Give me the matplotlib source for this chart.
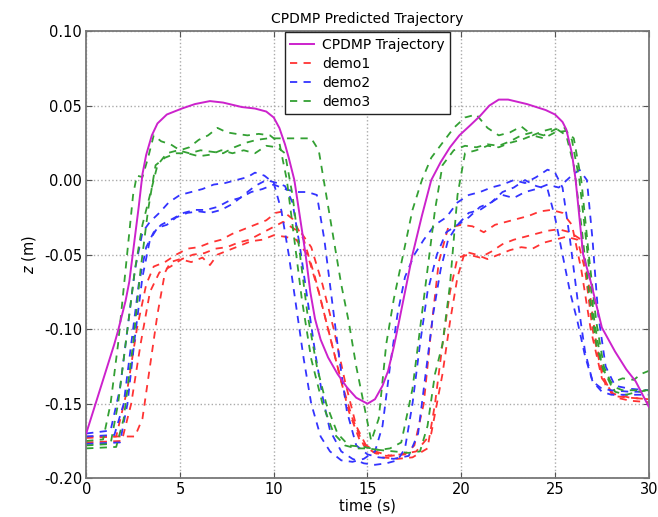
import numpy as np
import matplotlib
matplotlib.use("Agg")
import matplotlib.pyplot as plt

# CPDMP predicted trajectory
cp_t = [0, 0.5, 1.0, 1.5, 1.7, 2.1, 2.3, 2.5, 2.8, 3.0, 3.2, 3.5, 3.8, 4.3, 5.1, 5.8, 6.6, 7.3,
        8.3, 9.0, 9.6, 10.0, 10.3, 10.6, 10.8, 11.1, 11.4, 11.7, 11.95, 12.2, 12.5, 12.9, 13.4,
        13.9, 14.4, 15.0, 15.4, 15.8, 16.1, 16.4, 16.6, 17.0, 17.4, 17.9, 18.4, 18.9, 19.4, 19.9,
        20.5, 21.0, 21.5, 22.0, 22.5, 23.5, 24.5, 25.0, 25.4, 25.6, 25.9, 26.1, 26.5, 26.9, 27.5,
        28.2, 28.8, 29.3, 30.0]
cp_z = [-0.170, -0.150, -0.130, -0.110, -0.101, -0.081, -0.068, -0.048, -0.018, 0.004, 0.017,
        0.030, 0.038, 0.044, 0.048, 0.051, 0.053, 0.052, 0.049, 0.048, 0.046, 0.042, 0.035, 0.024,
        0.015, 0.000, -0.025, -0.050, -0.075, -0.093, -0.107, -0.119, -0.130, -0.139, -0.146,
        -0.150, -0.147, -0.138, -0.128, -0.112, -0.100, -0.075, -0.050, -0.024, 0.000, 0.012, 0.022,
        0.030, 0.037, 0.043, 0.050, 0.054, 0.054, 0.051, 0.047, 0.044, 0.039, 0.034, 0.018, 0.000,
        -0.050, -0.068, -0.099, -0.115, -0.127, -0.135, -0.152]

# demo1 (red)
r1_t = [0, 1.6, 2.2, 2.7, 3.2, 3.6, 4.2, 4.8, 5.4, 6.0, 6.6, 7.2, 7.8, 8.4, 9.0, 9.6, 10.1, 10.5,
        11.0, 11.6, 12.2, 12.8, 13.4, 14.0, 14.6, 15.4, 16.2, 17.0, 17.5, 18.0, 18.4, 18.8, 19.3,
        20.0, 20.6, 21.2, 21.8, 22.4, 23.0, 23.6, 24.2, 24.8, 25.4, 25.9, 26.4, 26.9, 27.5, 28.2,
        29.0, 30]
r1_z = [-0.173, -0.172, -0.140, -0.100, -0.070, -0.058, -0.055, -0.050, -0.046, -0.045, -0.042,
        -0.040, -0.036, -0.033, -0.030, -0.027, -0.022, -0.021, -0.026, -0.040, -0.065, -0.095,
        -0.125, -0.155, -0.175, -0.182, -0.185, -0.184, -0.178, -0.150, -0.100, -0.055, -0.032,
        -0.030, -0.031, -0.035, -0.030, -0.028, -0.026, -0.024, -0.021, -0.020, -0.022, -0.030,
        -0.060, -0.100, -0.133, -0.145, -0.146, -0.147]
r2_t = [0, 1.9, 2.4, 2.9, 3.4, 3.9, 4.5, 5.1, 5.7, 6.3, 6.9, 7.5, 8.1, 8.7, 9.3, 9.9, 10.5, 11.0,
        11.5, 12.0, 12.6, 13.2, 13.8, 14.4, 15.0, 15.8, 16.6, 17.4, 18.2, 18.6, 19.0, 19.4, 19.8,
        20.4, 21.0, 21.6, 22.2, 22.8, 23.4, 24.0, 24.6, 25.2, 25.8, 26.4, 26.8, 27.2, 27.7, 28.3,
        29.0, 30]
r2_z = [-0.176, -0.175, -0.150, -0.110, -0.075, -0.062, -0.058, -0.053, -0.050, -0.049, -0.046,
        -0.045, -0.042, -0.040, -0.036, -0.032, -0.028, -0.032, -0.036, -0.045, -0.070, -0.100,
        -0.135, -0.165, -0.180, -0.186, -0.187, -0.186, -0.180, -0.150, -0.110, -0.075, -0.052,
        -0.050, -0.052, -0.048, -0.043, -0.040, -0.038, -0.036, -0.034, -0.033, -0.035, -0.040,
        -0.070, -0.110, -0.138, -0.146, -0.148, -0.149]
r3_t = [0, 2.6, 3.0, 3.4, 3.8, 4.2, 4.5, 5.0, 5.6, 6.2, 6.6, 7.0, 7.6, 8.2, 8.8, 9.4, 10.0, 10.6,
        11.2, 11.8, 12.4, 13.0, 13.6, 14.2, 14.8, 15.4, 16.0, 16.8, 17.6, 18.4, 19.0, 19.4, 19.8,
        20.2, 20.8, 21.4, 22.0, 22.6, 23.2, 23.8, 24.4, 25.0, 25.6, 26.2, 26.6, 27.0, 27.5, 28.0,
        29.0, 30]
r3_z = [-0.172, -0.172, -0.160, -0.125, -0.090, -0.062, -0.055, -0.053, -0.055, -0.052, -0.057,
        -0.050, -0.047, -0.044, -0.041, -0.040, -0.037, -0.038, -0.040, -0.050, -0.075, -0.105,
        -0.135, -0.160, -0.178, -0.183, -0.185, -0.184, -0.182, -0.170, -0.130, -0.095, -0.065,
        -0.048, -0.050, -0.053, -0.050, -0.047, -0.045, -0.046, -0.042, -0.040, -0.038, -0.040,
        -0.060, -0.100, -0.130, -0.143, -0.146, -0.147]

# demo2 (blue)
b1_t = [0, 1.3, 1.8, 2.2, 2.6, 3.0, 3.4, 3.9, 4.4, 5.0, 5.6, 6.2, 6.8, 7.4, 8.0, 8.6, 9.0, 9.5,
        10.0, 10.4, 10.8, 11.2, 11.6, 12.0, 12.5, 13.0, 13.6, 14.2, 14.8, 15.4, 15.8, 16.2, 16.6,
        17.0, 17.5, 18.0, 18.6, 19.2, 19.8, 20.4, 21.0, 21.6, 22.2, 22.8, 23.4, 24.0, 24.6, 25.0,
        25.4, 25.8, 26.2, 26.6, 27.0, 27.5, 28.0, 29.0, 30]
b1_z = [-0.170, -0.168, -0.140, -0.100, -0.060, -0.035, -0.028, -0.022, -0.015, -0.010, -0.008,
        -0.006, -0.003, -0.002, 0.000, 0.002, 0.005, 0.003, -0.002, -0.020, -0.050, -0.085,
        -0.120, -0.150, -0.172, -0.182, -0.188, -0.189, -0.187, -0.182, -0.165, -0.125, -0.090,
        -0.065, -0.050, -0.040, -0.030, -0.025, -0.015, -0.010, -0.008, -0.005, -0.003, 0.000,
        -0.002, 0.002, 0.007, 0.005, -0.005, -0.040, -0.080, -0.115, -0.135, -0.140, -0.141,
        -0.142, -0.142]
b2_t = [0, 1.5, 2.0, 2.4, 2.8, 3.2, 3.6, 4.0, 4.6, 5.2, 5.8, 6.4, 7.0, 7.6, 8.2, 8.8, 9.4, 10.0,
        10.6, 11.2, 11.8, 12.3, 12.7, 13.1, 13.5, 13.9, 14.4, 15.0, 15.6, 16.4, 17.2, 17.7, 18.1,
        18.5, 18.9, 19.3, 19.8, 20.4, 21.0, 21.6, 22.2, 22.8, 23.4, 24.0, 24.6, 25.2, 25.8, 26.3,
        26.7, 27.0, 27.3, 27.7, 28.2, 29.0, 30]
b2_z = [-0.172, -0.171, -0.150, -0.110, -0.070, -0.045, -0.035, -0.030, -0.026, -0.022, -0.020,
        -0.020, -0.018, -0.014, -0.012, -0.008, -0.006, -0.003, -0.006, -0.008, -0.008, -0.010,
        -0.040, -0.080, -0.120, -0.155, -0.178, -0.184, -0.186, -0.187, -0.185, -0.170, -0.130,
        -0.090, -0.060, -0.040, -0.030, -0.022, -0.020, -0.015, -0.010, -0.012, -0.008, -0.006,
        -0.003, -0.005, 0.002, 0.007, 0.000, -0.040, -0.090, -0.125, -0.138, -0.140, -0.141]
b3_t = [0, 1.8, 2.2, 2.6, 3.0, 3.4, 3.8, 4.3, 4.8, 5.4, 6.0, 6.6, 7.2, 7.8, 8.4, 9.0, 9.6, 10.2,
        10.6, 11.0, 11.4, 11.8, 12.2, 12.6, 13.0, 13.6, 14.2, 14.8, 15.4, 16.0, 16.6, 17.0, 17.4,
        17.8, 18.2, 18.7, 19.2, 19.8, 20.4, 21.0, 21.6, 22.2, 22.8, 23.4, 24.0, 24.6, 25.0, 25.4,
        25.8, 26.2, 26.6, 27.0, 27.5, 28.0, 29.0, 30]
b3_z = [-0.177, -0.176, -0.150, -0.105, -0.065, -0.040, -0.032, -0.030, -0.025, -0.022, -0.021,
        -0.022, -0.020, -0.016, -0.010, -0.004, 0.000, -0.002, -0.004, -0.015, -0.045, -0.080,
        -0.115, -0.145, -0.168, -0.182, -0.187, -0.190, -0.191, -0.190, -0.188, -0.180, -0.150,
        -0.110, -0.075, -0.050, -0.035, -0.030, -0.025, -0.018, -0.015, -0.008, -0.005, 0.000,
        -0.004, -0.006, -0.025, -0.050, -0.075, -0.095, -0.118, -0.135, -0.142, -0.144, -0.144,
        -0.144]

# demo3 (green)
g1_t = [0, 0.9, 1.3, 1.7, 2.1, 2.5, 2.7, 3.0, 3.3, 3.6, 4.0, 4.5, 5.0, 5.5, 6.0, 6.5, 7.0, 7.5,
        8.0, 8.6, 9.2, 9.8, 10.3, 10.7, 11.1, 11.5, 12.0, 12.6, 13.2, 13.8, 14.4, 15.0, 15.6, 16.2,
        16.8, 17.4, 17.8, 18.2, 18.6, 19.0, 19.6, 20.2, 20.8, 21.4, 22.0, 22.6, 23.2, 23.8, 24.4,
        25.0, 25.5, 25.9, 26.3, 26.7, 27.1, 27.5, 28.0, 28.6, 29.3, 30]
g1_z = [-0.175, -0.174, -0.150, -0.110, -0.060, -0.010, 0.003, 0.002, 0.015, 0.030, 0.026, 0.024,
        0.020, 0.022, 0.027, 0.030, 0.035, 0.032, 0.031, 0.030, 0.031, 0.030, 0.025, 0.000,
        -0.040, -0.080, -0.120, -0.150, -0.170, -0.178, -0.180, -0.180, -0.181, -0.180, -0.176,
        -0.140, -0.100, -0.060, -0.020, 0.010, 0.020, 0.023, 0.022, 0.024, 0.023, 0.026, 0.030,
        0.032, 0.030, 0.034, 0.035, 0.027, 0.000, -0.045, -0.095, -0.125, -0.138, -0.141, -0.141,
        -0.141]
g2_t = [0, 1.6, 2.0, 2.5, 2.9, 3.3, 3.7, 4.2, 4.8, 5.4, 6.0, 6.6, 7.2, 7.8, 8.4, 9.0, 9.6, 10.2,
        10.6, 11.0, 11.4, 11.8, 12.3, 12.8, 13.4, 14.0, 14.8, 15.6, 16.4, 17.2, 17.8, 18.2, 18.6,
        19.0, 19.4, 19.8, 20.2, 20.8, 21.4, 22.0, 22.6, 23.2, 23.8, 24.4, 25.0, 25.6, 26.0, 26.4,
        26.8, 27.2, 27.6, 28.2, 28.8, 29.4, 30]
g2_z = [-0.180, -0.179, -0.160, -0.110, -0.060, -0.020, 0.010, 0.015, 0.018, 0.018, 0.016, 0.017,
        0.020, 0.018, 0.020, 0.018, 0.023, 0.022, 0.018, -0.010, -0.050, -0.090, -0.125, -0.150,
        -0.170, -0.178, -0.179, -0.181, -0.182, -0.183, -0.182, -0.165, -0.130, -0.110, -0.070,
        -0.010, 0.018, 0.020, 0.023, 0.022, 0.025, 0.027, 0.030, 0.028, 0.032, 0.033, 0.028,
        0.000, -0.050, -0.095, -0.125, -0.142, -0.144, -0.142, -0.141]
g3_t = [0, 1.3, 1.7, 2.2, 2.6, 3.0, 3.4, 3.8, 4.3, 4.9, 5.5, 6.1, 6.7, 7.3, 7.9, 8.5, 9.1, 9.7,
        10.3, 10.9, 11.5, 12.0, 12.4, 12.8, 13.2, 13.6, 14.0, 14.4, 14.8, 15.2, 15.6, 16.0, 16.4,
        16.9, 17.4, 17.9, 18.4, 19.0, 19.6, 20.2, 20.8, 21.4, 22.0, 22.6, 23.2, 23.8, 24.4, 25.0,
        25.6, 26.0, 26.4, 26.8, 27.2, 27.6, 28.0, 28.6, 29.2, 29.6, 30]
g3_z = [-0.178, -0.177, -0.150, -0.100, -0.060, -0.030, -0.010, 0.010, 0.018, 0.020, 0.018,
        0.020, 0.019, 0.018, 0.022, 0.025, 0.027, 0.028, 0.028, 0.028, 0.028, 0.028, 0.020,
        -0.010, -0.040, -0.070, -0.095, -0.125, -0.150, -0.175, -0.160, -0.110, -0.080, -0.050,
        -0.020, 0.000, 0.015, 0.025, 0.035, 0.042, 0.044, 0.035, 0.030, 0.032, 0.036, 0.030,
        0.033, 0.035, 0.030, 0.010, -0.030, -0.075, -0.110, -0.128, -0.136, -0.133, -0.134,
        -0.130, -0.128]

demos = [
    ("demo1", "#ff3333", [(r1_t, r1_z), (r2_t, r2_z), (r3_t, r3_z)]),
    ("demo2", "#3333ff", [(b1_t, b1_z), (b2_t, b2_z), (b3_t, b3_z)]),
    ("demo3", "#33a033", [(g1_t, g1_z), (g2_t, g2_z), (g3_t, g3_z)]),
]

fig = plt.figure(figsize=(6.58, 5.17), dpi=100)
ax = fig.add_axes([0.131, 0.075, 0.855, 0.865])

ax.plot(cp_t, cp_z, color="#cc22cc", lw=1.4, label="CPDMP Trajectory", zorder=3)
for name, col, lines in demos:
    for i, (t, z) in enumerate(lines):
        ax.plot(t, z, color=col, lw=1.3, ls=(0, (4, 3.5)),
                label=name if i == 0 else None)

ax.set_xlim(0, 30)
ax.set_ylim(-0.20, 0.10)
ax.set_xticks([0, 5, 10, 15, 20, 25, 30])
ax.set_yticks([-0.20, -0.15, -0.10, -0.05, 0.00, 0.05, 0.10])
ax.set_yticklabels(["%.2f" % v for v in ax.get_yticks()])
ax.grid(True, ls=":", color="#aaaaaa", lw=1.0)
ax.tick_params(direction="in", top=True, right=True, labelsize=10.5, length=4,
               pad=3, color="#555555")
for s in ax.spines.values():
    s.set_color("#777777")
    s.set_linewidth(1.3)

ax.set_title("CPDMP Predicted Trajectory", fontsize=10, pad=6)
ax.set_xlabel("time (s)", fontsize=10.5, labelpad=1)
ax.set_ylabel("$z$ (m)", fontsize=10.5, labelpad=4)
ax.legend(loc="upper center", bbox_to_anchor=(0.5, 1.0), fontsize=10,
          fancybox=False, edgecolor="#222222", framealpha=1, handlelength=1.7,
          handletextpad=0.6, borderaxespad=0.1, labelspacing=0.35)

fig.savefig("out.png", dpi=100)
